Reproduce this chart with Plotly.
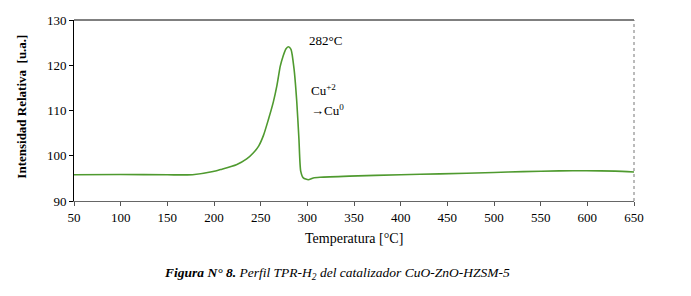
import plotly.graph_objects as go

temperature = [50, 100, 150, 177, 199, 207, 224, 235, 242, 248, 253, 258, 263.6, 267.5, 271, 274, 277, 279.6, 282.5, 285.7, 288.6, 291, 292.9, 295.7, 301, 306.4, 313.6, 345, 400, 442, 500, 531, 570, 599, 630, 650]
intensity = [95.8, 95.85, 95.8, 95.8, 96.5, 96.95, 98.0, 99.3, 100.6, 102.2, 104.5, 107.8, 111.9, 115.6, 119.8, 122.0, 123.6, 124.1, 123.5, 119.3, 112.2, 103.7, 96.6, 95.1, 94.7, 95.1, 95.25, 95.5, 95.8, 96.0, 96.3, 96.5, 96.65, 96.7, 96.6, 96.4]

x_ticks = [50, 100, 150, 200, 250, 300, 350, 400, 450, 500, 550, 600, 650]
y_ticks = [90, 100, 110, 120, 130]

FONT = "Liberation Serif"

# page has an 8px body margin; figure is sized so the plot box lands where the reference has it
L, R, T, B = 66, 57, 5, 95
W, H = 683, 288
PX0, PY0 = 74, 201          # screen position of plot's bottom-left corner
PW, PH = W - L - R, H - T - B


def px(sx):
    return (sx - PX0) / PW


def py(sy):
    return (PY0 - sy) / PH


fig = go.Figure()
fig.add_trace(go.Scatter(x=temperature, y=intensity, mode="lines",
                         line=dict(color="#4f9a2f", width=1.6, shape="spline", smoothing=0.6),
                         showlegend=False, hoverinfo="skip"))

fig.update_layout(
    width=W, height=H,
    margin=dict(l=L, r=R, t=T, b=B),
    paper_bgcolor="white", plot_bgcolor="white",
    font=dict(family=FONT, size=13, color="black"),
    xaxis=dict(range=[50, 650], tickvals=x_ticks, ticks="outside", ticklen=4, tickcolor="#555",
               showline=True, linecolor="#666", linewidth=1, showgrid=False, zeroline=False,
               tickfont=dict(family=FONT, size=13), ticklabeloverflow="allow"),
    yaxis=dict(range=[90, 130], tickvals=y_ticks, ticks="outside", ticklen=4, tickcolor="black",
               showline=True, linecolor="black", linewidth=1, showgrid=False, zeroline=False,
               tickfont=dict(family=FONT, size=13), ticklabeloverflow="allow"),
    shapes=[
        dict(type="line", xref="paper", yref="paper", x0=0, x1=1, y0=1, y1=1,
             line=dict(color="black", width=1)),
        dict(type="line", xref="paper", yref="paper", x0=1, x1=1, y0=0, y1=1,
             line=dict(color="#777", width=1, dash="dot")),
    ],
    annotations=[
        dict(text="282°C", x=299.5, y=125.4, xref="x", yref="y", xanchor="left", yanchor="middle",
             showarrow=False, font=dict(family=FONT, size=13)),
        dict(text="Cu<sup>+2</sup>", x=302, y=114.6, xref="x", yref="y", xanchor="left", yanchor="middle",
             showarrow=False, font=dict(family=FONT, size=13)),
        dict(text="→Cu<sup>0</sup>", x=302, y=110.2, xref="x", yref="y", xanchor="left", yanchor="middle",
             showarrow=False, font=dict(family=FONT, size=13)),
        dict(text="<b>Intensidad Relativa  [u.a.]</b>", x=px(22), y=py(103), xref="paper", yref="paper",
             xanchor="center", yanchor="middle",
             showarrow=False, textangle=-90, font=dict(family=FONT, size=13)),
        dict(text="Temperatura [°C]", x=0.5, y=py(240), xref="paper", yref="paper",
             xanchor="center", yanchor="middle", showarrow=False, font=dict(family=FONT, size=14)),
        dict(text="<b><i>Figura N° 8.</i></b><i> Perfil TPR-H<sub>2</sub> del catalizador CuO-ZnO-HZSM-5</i>",
             x=px(337), y=py(276), xref="paper", yref="paper",
             xanchor="center", yanchor="middle", showarrow=False, font=dict(family=FONT, size=13.5)),
    ],
)

fig.write_html("out.html")
